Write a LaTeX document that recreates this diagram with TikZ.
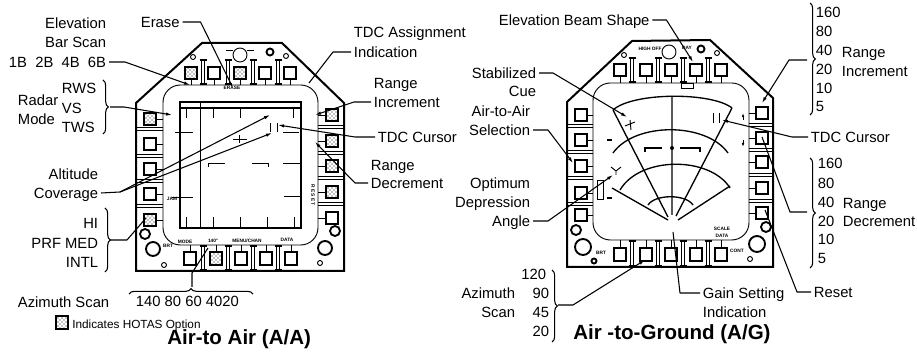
\documentclass[tikz,border=0pt]{standalone}
\usepackage{fontspec}
\setmainfont{Liberation Sans}
\usetikzlibrary{arrows.meta,patterns,decorations.pathreplacing}
\newcommand{\mfdpillar}[3]{%
  \draw[thin line] (#1-1.5,#2) -- (#1-1.5,#3) (#1+1.5,#2) -- (#1+1.5,#3);
  \draw[line width=1.3pt] (#1-3.5,#2) -- (#1+3.5,#2) (#1-3.5,#3) -- (#1+3.5,#3);
}
\tikzset{
  thin line/.style={line width=0.7pt},
  shell/.style={line width=1.5pt,line join=miter},
  bezel/.style={line width=0.7pt,rounded corners=13pt},
  btn/.style={line width=0.9pt,fill=white},
  hotas/.style={pattern=crosshatch dots,line width=1.1pt},
  txt/.style={font=\fontsize{11.1pt}{13pt}\selectfont,inner sep=2pt,text height=8pt,text depth=0pt},
  title/.style={font=\fontsize{15.4pt}{17pt}\selectfont\bfseries,inner sep=0pt},
  tiny/.style={font=\fontsize{3.6pt}{4pt}\selectfont\bfseries,inner sep=0pt},
  leader/.style={line width=0.8pt,line join=round},
  tip/.style={leader,-{Latex[length=4.5pt,width=2.6pt]}},
  bracehand/.style={line width=0.8pt,decorate,decoration={brace,amplitude=4pt}},
}
\begin{document}
\begin{tikzpicture}[x=0.75pt,y=-0.75pt]
  \useasboundingbox (0,0) rectangle (917,352);

  % A/A display
  \draw[shell] (202,43) -- (282,43) -- (344,103) -- (344,271) -- (136,271) -- (136,103) -- cycle;
  \draw[bezel] (163,85) rectangle (318,245);
  \foreach \y in {129,156,181,206} {
    \draw[thin line] (136,\y-1.5) -- (163,\y-1.5) (136,\y+1.5) -- (163,\y+1.5);
  }
  \foreach \y in {127,153,178,204} {
    \draw[thin line] (318,\y-1.5) -- (344,\y-1.5) (318,\y+1.5) -- (344,\y+1.5);
  }
  \foreach \x in {203,228,253,278} {
    \mfdpillar{\x}{60}{84}
    \mfdpillar{\x}{246}{270}
  }
  \foreach \x/\s in {185/hotas,208/btn,234/hotas,259/btn,284/btn} {
    \draw[thin line] (\x+6,79) -- (\x+6,85);
    \draw[btn,\s] (\x,67) rectangle ++(12,12);
  }
  \foreach \x/\s in {184/btn,210/hotas,235/btn,260/btn,285/btn} {
    \draw[thin line] (\x+6,245) -- (\x+6,252);
    \draw[btn,\s] (\x,252) rectangle ++(12,13);
  }
  \foreach \y/\s in {113/hotas,138/btn,163/btn,188/btn,214/hotas} {
    \draw[thin line] (156,\y+6) -- (163,\y+6);
    \draw[btn,\s] (144,\y) rectangle ++(12,12);
  }
  \foreach \y/\s in {109/hotas,135/hotas,160/hotas,186/hotas,212/btn} {
    \draw[thin line] (326,\y+6) -- (318,\y+6);
    \draw[btn,\s] (326,\y) rectangle ++(12,12);
  }
  \draw[thin line] (193,57) circle (2.5) (240,55) circle (7) (286,56) circle (2.5);
  \draw[thin line] (226,50) -- (233,50) (247,50) -- (254,50);
  \draw[line width=1.4pt] (270,52) circle (3.5) (145,234) circle (5) (153,249) circle (7)
    (335,231) circle (5) (325,248) circle (7);
  \draw[thin line] (164,265) circle (2.5) (320,263) circle (2.5);

  % A/A scope
  \draw[line width=1pt] (180,102) rectangle (301,228);
  \draw[line width=1.2pt] (180,108) -- (301,108);
  \draw[thin line] (200,102) -- (200,228);
  \foreach \x in {186,213,240,293} {
    \draw[thin line] (\x,108) -- (\x,118);
  }
  \foreach \x in {186,213,240,267,294} {
    \draw[thin line] (\x,228) -- (\x,217);
  }
  \draw[thin line] (175,132) -- (193,132) (172,197) -- (193,197) (283,132) -- (299,132) (284,196) -- (300,196);
  \draw[thin line] (208,167) -- (208,163) -- (225,163) (252,163) -- (268,163) -- (268,167) (283,163) -- (300,163);
  \draw[thin line] (233,139) -- (247,139) (239,135) -- (239,143);
  \draw[thin line] (270,123) -- (270,132) (277,123) -- (277,132);

  \node[tiny] (erasemark) at (232,88) {ERASE};
  \node[tiny] (modemark) at (185,242) {MODE};
  \node[tiny] (azmark) at (213,241) {140°};
  \node[tiny] (chanmark) at (247,241) {MENU/CHAN};
  \node[tiny] (datamark) at (287,240) {DATA};
  \node[tiny,rotate=-90] (resetmark) at (313,195) {R E S E T};
  \node[tiny] (jammark) at (172,199) {JAM};

  % A/G display
  \draw[shell] (632,41) -- (710,40) -- (773,98) -- (773,267) -- (567,267) -- (567,102) -- cycle;
  \draw[bezel] (593,83) rectangle (749,240);
  \foreach \y in {126,152,178,204} {
    \draw[thin line] (567,\y-1.5) -- (593,\y-1.5) (567,\y+1.5) -- (593,\y+1.5);
  }
  \foreach \y in {125,150,175,201} {
    \draw[thin line] (749,\y-1.5) -- (773,\y-1.5) (749,\y+1.5) -- (773,\y+1.5);
  }
  \foreach \x in {632,658,683,708} {
    \mfdpillar{\x}{58}{82}
    \mfdpillar{\x}{241}{266}
  }
  \foreach \x in {614,640,665,690,715} {
    \draw[thin line] (\x+6,76) -- (\x+6,83);
    \draw[btn] (\x,64) rectangle ++(12,12);
    \draw[thin line] (\x+6,240) -- (\x+6,248);
    \draw[btn] (\x,248) rectangle ++(12,13);
  }
  \foreach \y in {109,134,160,187,209} {
    \draw[thin line] (587,\y+6) -- (593,\y+6);
    \draw[btn] (575,\y) rectangle ++(12,12);
  }
  \foreach \y in {107,132,156,182,207} {
    \draw[thin line] (756,\y+6) -- (749,\y+6);
    \draw[btn] (756,\y) rectangle ++(12,12);
  }
  \draw[thin line] (624,55) circle (2.5) (669,52) circle (7) (717,53) circle (2.5) (750,259) circle (2.5);
  \draw[line width=1.4pt] (701,49) circle (3.5) (576,230) circle (5) (583,247) circle (8)
    (594,261) circle (2.5) (766,227) circle (5) (757,244) circle (8);
  \node[tiny] (highmark) at (650,49) {HIGH OFF};
  \node[tiny] (daymark) at (687,48) {DAY};
  \node[tiny] (brtmark) at (601,253) {BRT};
  \node[tiny] (contmark) at (737,251) {CONT};
  \node[tiny] (brtmarkb) at (168,246) {BRT};
  \node[tiny] (scalemark) at (722,229) {SCALE};
  \node[tiny] (datamarkb) at (722,236) {DATA};

  % A/G radar sweep
  \draw[line width=1pt] (613,110) .. controls (633,92) and (712,92) .. (732,108);
  \draw[line width=1pt] (613,153) .. controls (635,122) and (706,122) .. (728,153);
  \draw[line width=1pt] (620,190) .. controls (640,156) and (710,156) .. (730,188);
  \draw[line width=1pt] (648,205) .. controls (655,194) and (686,194) .. (693,205);
  \draw[line width=1pt] (613,110) -- (668,217) (612,188) -- (668,220) (672,96) -- (672,215)
    (732,108) -- (676,216) (730,186) -- (678,220);
  \draw[line width=1pt] (645,152) -- (645,148) -- (662,148) (680,148) -- (700,148) -- (700,152);
  \fill (672,148) circle (2);
  \draw[thin line] (713,113) -- (713,123) (719,113) -- (719,123);
  \draw[thin line] (625,126) -- (635,122) (630,120) -- (631,130);
  \draw[thin line] (597,180) rectangle (603,199) (681,83) rectangle (693,88);
  \draw[line width=1pt] (607,140) -- (612,140) (607,198) -- (612,198);
  \draw[thin line,-{Latex[length=3pt,width=2pt]}] (743,120) -- (743,113);
  \draw[thin line,-{Latex[length=3pt,width=2pt]}] (743,140) -- (743,147);
  \draw[thin line] (611,167) -- (616,171) -- (621,167) (616,171) -- (616,175);

  % A/A labels
  \node[txt,anchor=east] (elevLbl) at (109,23) {Elevation};
  \node[txt,anchor=east] (barLbl) at (109,42) {Bar Scan};
  \node[txt,anchor=east] (barVals) at (109,62) {1B\ \ 2B\ \ 4B\ \ 6B};
  \node[txt,anchor=west] (radarLbl) at (15,100) {Radar};
  \node[txt,anchor=west] (modeLbl) at (15,119) {Mode};
  \node[txt,anchor=west] (rwsLbl) at (59,88) {RWS};
  \node[txt,anchor=west] (vsLbl) at (59,108) {VS};
  \node[txt,anchor=west] (twsLbl) at (59,127) {TWS};
  \node[txt,anchor=west] (eraseLbl) at (138,22) {Erase};
  \node[txt,anchor=west] (tdcLbl) at (351,32) {TDC Assignment};
  \node[txt,anchor=west] (indLbl) at (351,52) {Indication};
  \node[txt,anchor=west] (rangeLbl) at (371,83) {Range};
  \node[txt,anchor=west] (incLbl) at (371,102) {Increment};
  \node[txt,anchor=west] (curLbl) at (375,137) {TDC Cursor};
  \node[txt,anchor=west] (rangeLblb) at (368,165) {Range};
  \node[txt,anchor=west] (decLbl) at (368,183) {Decrement};
  \node[txt,anchor=east] (altLbl) at (101,174) {Altitude};
  \node[txt,anchor=east] (covLbl) at (101,193) {Coverage};
  \node[txt,anchor=east] (hiLbl) at (101,223) {HI};
  \node[txt,anchor=east] (prfLbl) at (101,243) {PRF MED};
  \node[txt,anchor=east] (intlLbl) at (101,262) {INTL};
  \node[txt,anchor=west] (azLbl) at (15,302) {Azimuth Scan};
  \node[txt,anchor=west] (azVals) at (133,301) {140 80 60 4020};
  \draw[hotas] (56,316) rectangle (68,329);
  \node[txt,anchor=west,font=\fontsize{8.85pt}{10pt}\selectfont,inner sep=0pt] (hotasLbl) at (72,323) {Indicates HOTAS Option};
  \node[title,anchor=west] (aaTitle) at (167,339) {Air-to Air (A/A)};

  % A/A leaders
  \coordinate (eraseEnd) at (232,86);
  \coordinate (barEnd) at (190,85);
  \coordinate (radarBrace) at (110,107);
  \coordinate (radarEnd) at (172,115);
  \coordinate (assignEnd) at (309,83);
  \coordinate (incEnd) at (315,115);
  \coordinate (curEnd) at (278,125);
  \coordinate (decEnd) at (315,142);
  \coordinate (altFork) at (120,192);
  \coordinate (altEndA) at (270,115);
  \coordinate (altEndB) at (272,133);
  \coordinate (prfBrace) at (110,240);
  \coordinate (prfEnd) at (146,218);
  \coordinate (azBrace) at (192,287);
  \coordinate (azFork) at (192,273);
  \coordinate (azEnd) at (208,248);
  \draw[leader] (eraseLbl.east) -- ++(18,0) -- (eraseEnd);
  \draw[tip] (barVals.east) -- ++(16,0) -- (barEnd);
  \draw[bracehand] (103,80) -- (103,134);
  \draw[tip] (radarBrace) -- ++(14,0) -- (radarEnd);
  \draw[leader] (indLbl.west) -- ++(-18,0) -- (assignEnd);
  \draw[tip] (incLbl.west) -- ++(-17,0) -- (incEnd);
  \draw[tip] (curLbl.west) -- ++(-20,0) -- (curEnd);
  \draw[tip] (decLbl.west) -- ++(-13,0) -- (decEnd);
  \draw[leader] (covLbl.east) -- (altFork);
  \draw[tip] (altFork) -- (altEndA);
  \draw[tip] (altFork) -- (altEndB);
  \draw[bracehand] (105,208) -- (105,272);
  \draw[leader] (prfBrace) -- ++(17,0) -- (prfEnd);
  \draw[bracehand] (129,294) -- (253,294);
  \draw[leader] (azBrace) -- (azFork) -- (azEnd);

  % A/G labels
  \node[txt,anchor=west] (beamLbl) at (496,20) {Elevation Beam Shape};
  \node[txt,anchor=east] (stabLbl) at (539,73) {Stabilized};
  \node[txt,anchor=east] (cueLbl) at (539,91) {Cue};
  \node[txt,anchor=east] (ataLbl) at (533,111) {Air-to-Air};
  \node[txt,anchor=east] (selLbl) at (533,130) {Selection};
  \node[txt,anchor=east] (optLbl) at (533,183) {Optimum};
  \node[txt,anchor=east] (depLbl) at (533,202) {Depression};
  \node[txt,anchor=east] (angLbl) at (533,221) {Angle};
  \node[txt,anchor=east] (azimLbl) at (518,293) {Azimuth};
  \node[txt,anchor=east] (scanLbl) at (518,312) {Scan};
  \node[txt,anchor=east] (azA) at (549,274) {120};
  \node[txt,anchor=east] (azB) at (552,293) {90};
  \node[txt,anchor=east] (azC) at (552,312) {45};
  \node[txt,anchor=east] (azD) at (552,331) {20};
  \node[title,anchor=west] (agTitle) at (573,334) {Air -to-Ground (A/G)};
  \node[txt,anchor=west] (gainLbl) at (700,293) {Gain Setting};
  \node[txt,anchor=west] (gainInd) at (700,312) {Indication};
  \node[txt,anchor=west] (resetLbl) at (811,292) {Reset};
  \node[txt,anchor=west] (cursorLbl) at (808,137) {TDC Cursor};
  \foreach \n/\t/\y in {a/160/12,b/80/31,c/40/50,d/20/69,e/10/88,f/5/106} {
    \node[txt,anchor=west] (inc\n) at (813,\y) {\t};
  }
  \node[txt,anchor=west] (rangeIncLbl) at (839,52) {Range};
  \node[txt,anchor=west] (incrLbl) at (839,71) {Increment};
  \foreach \n/\t/\y in {a/160/163,b/80/183,c/40/202,d/20/221,e/10/239,f/5/258} {
    \node[txt,anchor=west] (dec\n) at (815,\y) {\t};
  }
  \node[txt,anchor=west] (rangeDecLbl) at (840,203) {Range};
  \node[txt,anchor=west] (decrLbl) at (840,221) {Decrement};

  % A/G leaders
  \coordinate (beamEnd) at (693,62);
  \coordinate (stabEnd) at (627,117);
  \coordinate (selEnd) at (573,163);
  \coordinate (optEnd) at (613,175);
  \coordinate (azimBrace) at (558,305);
  \coordinate (azimEnd) at (645,260);
  \coordinate (gainEnd) at (673,232);
  \coordinate (resetEnd) at (765,210);
  \coordinate (cursorEnd) at (722,120);
  \coordinate (incBrace) at (807,60);
  \coordinate (incTop) at (762,103);
  \coordinate (decBrace) at (807,212);
  \coordinate (decTop) at (762,137);
  \draw[tip] (beamLbl.east) -- ++(14,0) -- (beamEnd);
  \draw[tip] (stabLbl.east) -- ++(14,0) -- (stabEnd);
  \draw[tip] (selLbl.east) -- ++(15,0) -- (selEnd);
  \draw[tip] (angLbl.east) -- ++(15,0) -- (optEnd);
  \draw[bracehand] (552,270) -- (552,342);
  \draw[tip] (azimBrace) -- ++(15,0) -- (azimEnd);
  \draw[leader] (gainLbl.west) -- ++(-20,0) -- (gainEnd);
  \draw[leader] (resetLbl.west) -- ++(-14,0) -- (resetEnd);
  \draw[tip] (cursorLbl.west) -- ++(-16,0) -- (cursorEnd);
  \draw[bracehand] (810,3) -- (810,115);
  \draw[tip] (incBrace) -- ++(-18,0) -- (incTop);
  \draw[bracehand] (810,158) -- (810,268);
  \draw[leader] (decBrace) -- ++(-17,0) -- (decTop);
\end{tikzpicture}
\end{document}
